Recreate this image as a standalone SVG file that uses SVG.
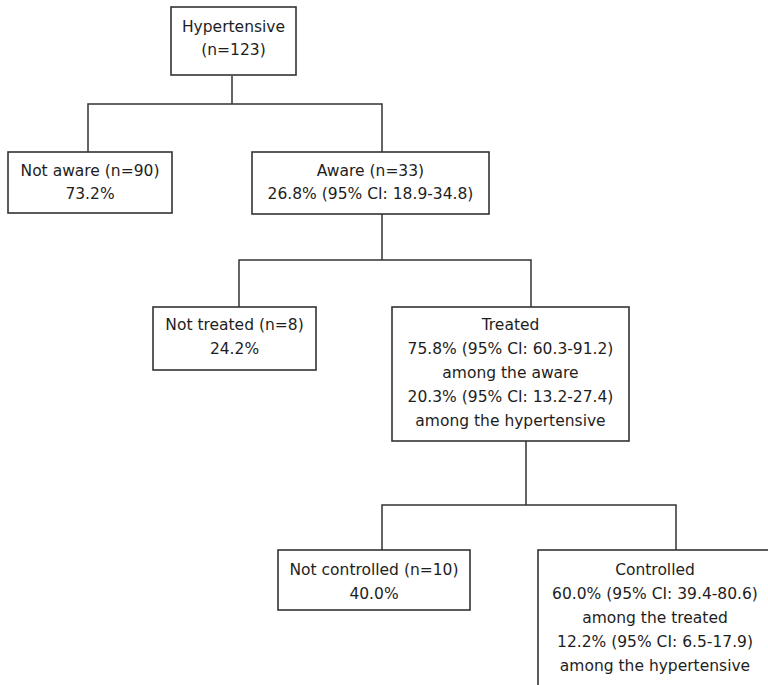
<svg xmlns="http://www.w3.org/2000/svg" width="768" height="685" viewBox="0 0 768 685">
<style>
.box{fill:#ffffff;stroke:#333333;stroke-width:1.6}
.t{font-family:"DejaVu Sans",Verdana,sans-serif;font-size:15.5px;fill:#1e1e1e;text-anchor:middle}
.c{fill:none;stroke:#333333;stroke-width:1.5}
</style>
<rect x="0" y="0" width="768" height="685" fill="#ffffff"/>
<g id="connectors">
<path class="c" d="M232,76 V104 M88,152 V104 H382 V152"/>
<path class="c" d="M382,214 V260 M239,307 V260 H531 V307"/>
<path class="c" d="M526,441 V505 M382,550 V505 H676 V550"/>
</g>
<g id="hypertensive">
<rect class="box" x="171" y="7" width="125" height="68"/>
<text class="t" x="233.5" y="32">Hypertensive</text>
<text class="t" x="233.5" y="55">(n=123)</text>
</g>
<g id="not-aware">
<rect class="box" x="8" y="152" width="164" height="61"/>
<text class="t" x="90" y="176">Not aware (n=90)</text>
<text class="t" x="90" y="199">73.2%</text>
</g>
<g id="aware">
<rect class="box" x="252" y="152" width="237" height="62"/>
<text class="t" x="370.5" y="176">Aware (n=33)</text>
<text class="t" x="370.5" y="199">26.8% (95% CI: 18.9-34.8)</text>
</g>
<g id="not-treated">
<rect class="box" x="153" y="307" width="163" height="63"/>
<text class="t" x="234.5" y="330">Not treated (n=8)</text>
<text class="t" x="234.5" y="354">24.2%</text>
</g>
<g id="treated">
<rect class="box" x="392" y="307" width="237" height="134"/>
<text class="t" x="510.5" y="330">Treated</text>
<text class="t" x="510.5" y="354">75.8% (95% CI: 60.3-91.2)</text>
<text class="t" x="510.5" y="378">among the aware</text>
<text class="t" x="510.5" y="402">20.3% (95% CI: 13.2-27.4)</text>
<text class="t" x="510.5" y="426">among the hypertensive</text>
</g>
<g id="not-controlled">
<rect class="box" x="278" y="550" width="192" height="60"/>
<text class="t" x="374" y="575">Not controlled (n=10)</text>
<text class="t" x="374" y="599">40.0%</text>
</g>
<g id="controlled">
<rect class="box" x="538" y="550" width="234" height="150"/>
<text class="t" x="655" y="575">Controlled</text>
<text class="t" x="655" y="599">60.0% (95% CI: 39.4-80.6)</text>
<text class="t" x="655" y="623">among the treated</text>
<text class="t" x="655" y="647">12.2% (95% CI: 6.5-17.9)</text>
<text class="t" x="655" y="671">among the hypertensive</text>
</g>
</svg>
